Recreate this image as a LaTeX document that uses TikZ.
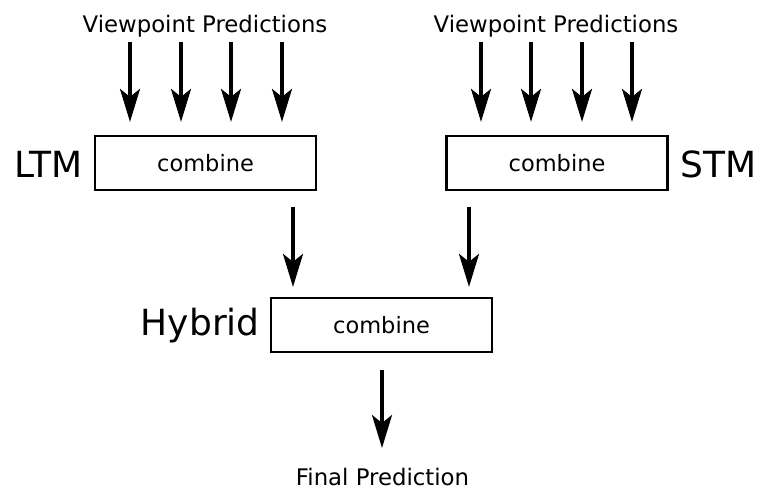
\documentclass[tikz,border=0pt]{standalone}
\usepackage{fontspec}
\setmainfont{DejaVu Sans}
\usetikzlibrary{arrows.meta}
\begin{document}
\begin{tikzpicture}[x=1pt,y=-1pt,
  combbox/.style={draw,line width=2.2pt,minimum width=221pt,minimum height=54pt,
    inner sep=0pt,font=\fontsize{22.5}{27}\selectfont},
  smalltxt/.style={inner sep=0pt,font=\fontsize{22.8}{27}\selectfont},
  bigtxt/.style={inner sep=0pt,font=\fontsize{36}{43}\selectfont},
  arr/.style={line width=3.5pt,-{Stealth[length=33pt,width=20pt,inset=8pt]}}]
\useasboundingbox (0,0) rectangle (760,488);

% the three combining stages
\node[combbox] (ltm) at (205.5,163) {combine};
\node[combbox] (stm) at (557,163) {combine};
\node[combbox] (hyb) at (381.5,325) {combine};

% model labels
\node[bigtxt,anchor=base east] (ltmlab) at (82.5,177) {LTM};
\node[bigtxt,anchor=base west] (stmlab) at (680.5,177) {STM};
\node[bigtxt,anchor=base east] (hyblab) at (260,335) {Hybrid};

% inputs and output
\node[smalltxt,anchor=base] (lvp) at (205,32) {Viewpoint Predictions};
\node[smalltxt,anchor=base] (rvp) at (556,32) {Viewpoint Predictions};
\node[smalltxt,anchor=base] (final) at (382.5,485.5) {Final Prediction};

% viewpoint prediction arrows into each model
\foreach \n/\x in {l1/130,l2/181,l3/231,l4/282}{
  \coordinate (\n) at (\x,42);
  \draw[arr,shorten >=13pt] (\n) -- (\n |- ltm.north);
}
\foreach \n/\x in {r1/481,r2/531,r3/582,r4/632}{
  \coordinate (\n) at (\x,42);
  \draw[arr,shorten >=13pt] (\n) -- (\n |- stm.north);
}

% model outputs into the hybrid stage
\coordinate (lo) at (293,207);
\coordinate (ro) at (469,207);
\draw[arr,shorten >=10pt] (lo) -- (lo |- hyb.north);
\draw[arr,shorten >=10pt] (ro) -- (ro |- hyb.north);

% final output
\coordinate (ho) at (382,370);
\coordinate (fi) at (382,448);
\draw[arr] (ho) -- (fi);
\end{tikzpicture}
\end{document}
